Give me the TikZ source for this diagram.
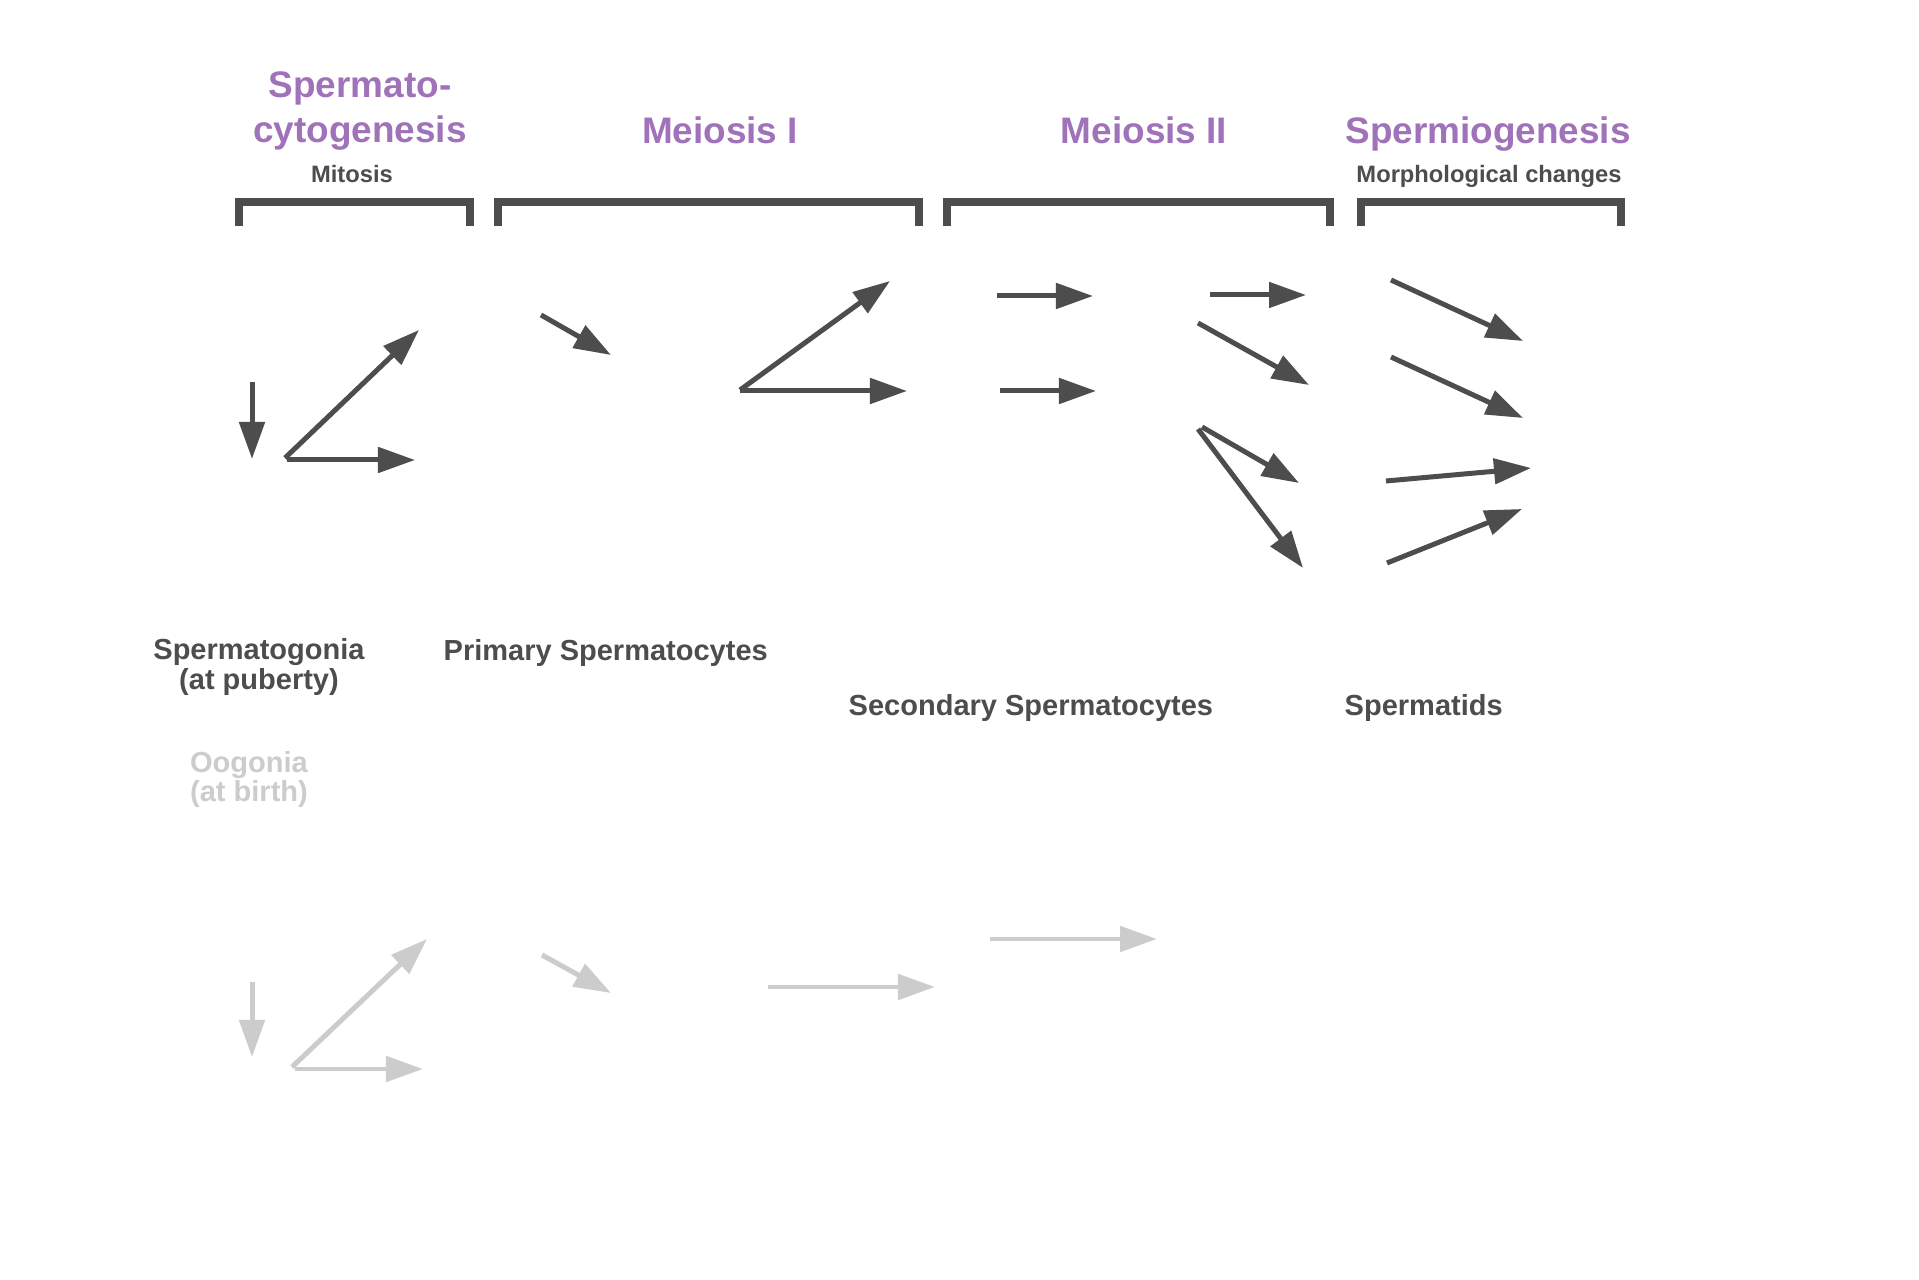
\documentclass[tikz,border=0pt]{standalone}
\usepackage{fontspec}
\setmainfont{Liberation Sans}
\usetikzlibrary{arrows.meta}
\definecolor{stagepurple}{HTML}{A072B9}
\definecolor{celldark}{HTML}{4D4D4D}
\definecolor{cellpale}{HTML}{CCCCCC}

\begin{document}
\begin{tikzpicture}[x=0.01cm,y=-0.01cm,
    stage/.style={text=stagepurple,font=\fontsize{10.5}{12.8}\selectfont\bfseries,anchor=base,inner sep=0pt,align=center},
    substage/.style={text=celldark,font=\fontsize{6.75}{8}\selectfont\bfseries,anchor=base,inner sep=0pt},
    celllabel/.style={text=celldark,font=\fontsize{8.25}{8.8}\selectfont\bfseries,anchor=base,inner sep=0pt,align=center},
    bracketline/.style={draw=celldark,line width=2.28pt,miter limit=10},
    divide/.style={draw=celldark,line width=1.42pt,-{Triangle[length=3.7mm,width=2.5mm]}},
    palediv/.style={draw=cellpale,line width=1.42pt,-{Triangle[length=3.7mm,width=2.5mm]}}]

    \useasboundingbox[fill=white] (0,0) rectangle (1919,1280);

    % stage headings (base = last line)
    \node[stage] (spermcyto) at (360,143) {Spermato-\\cytogenesis};
    \node[stage] (meiosisone) at (720,144) {Meiosis I};
    \node[stage] (meiosistwo) at (1144,144) {Meiosis II};
    \node[stage] (spermio) at (1488,144) {Spermiogenesis};

    \node[substage] (mitosis) at (352,183) {Mitosis};
    \node[substage] (morph) at (1489,183) {Morphological changes};

    % brackets
    \draw[bracketline] (239,226) -- (239,202) -- (470,202) -- (470,226);
    \draw[bracketline] (498,226) -- (498,202) -- (919,202) -- (919,226);
    \draw[bracketline] (947,226) -- (947,202) -- (1330,202) -- (1330,226);
    \draw[bracketline] (1361,226) -- (1361,202) -- (1621,202) -- (1621,226);

    % male line
    \draw[divide] (252,382) -- (252,459);
    \draw[divide] (285,458) -- (419,330);
    \draw[divide] (287,460) -- (415,460);
    \draw[divide] (541,315) -- (611,355);
    \draw[divide] (740,390) -- (890,281);
    \draw[divide] (740,391) -- (907,391);

    \draw[divide] (997,296) -- (1093,296);
    \draw[divide] (1000,391) -- (1096,391);
    \draw[divide] (1210,295) -- (1306,295);
    \draw[divide] (1198,323) -- (1309,385);
    \draw[divide] (1202,427) -- (1299,483);
    \draw[divide] (1198,429) -- (1303,568);

    \draw[divide] (1391,280) -- (1523,341);
    \draw[divide] (1391,357) -- (1523,418);
    \draw[divide] (1386,481) -- (1531,468);
    \draw[divide] (1387,563) -- (1522,509);

    \node[celllabel] (spermgonia) at (259,690) {Spermatogonia\\(at puberty)};
    \node[celllabel,anchor=base west] (primary) at (443,661) {Primary Spermatocytes};
    \node[celllabel,anchor=base west] (secondary) at (848,716) {Secondary Spermatocytes};
    \node[celllabel,anchor=base west] (spermatids) at (1344,716) {Spermatids};

    % female line
    \node[celllabel,text=cellpale,font=\fontsize{8.25}{8.4}\selectfont\bfseries] (oogonia) at (249,802) {Oogonia\\(at birth)};

    \draw[palediv] (252,982) -- (252,1057);
    \draw[palediv] (292,1067) -- (427,939);
    \draw[palediv] (295,1069) -- (423,1069);
    \draw[palediv] (542,955) -- (611,993);
    \draw[palediv] (768,987) -- (935,987);
    \draw[palediv] (990,939) -- (1157,939);

\end{tikzpicture}
\end{document}
